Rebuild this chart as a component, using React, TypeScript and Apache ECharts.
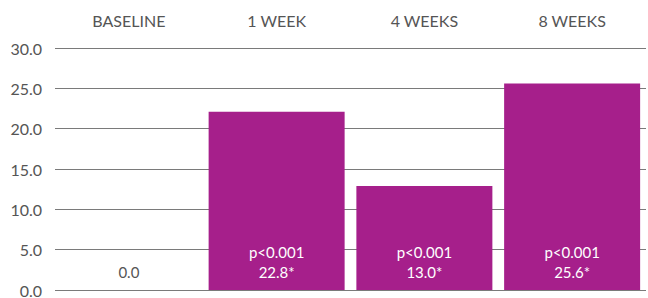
import React, { useEffect, useRef } from "react";
import * as echarts from "echarts";

const categories = ["BASELINE", "1 WEEK", "4 WEEKS", "8 WEEKS"];
const barValues = [0, 22.1, 12.9, 25.6];
const valueLabels = ["0.0", "22.8*", "13.0*", "25.6*"];
const pLabels = ["", "p<0.001", "p<0.001", "p<0.001"];
const yTicks = [0, 5, 10, 15, 20, 25, 30];

const BAR = "#A61F8B";
const FONT = "Lato, 'Open Sans', sans-serif";

export default function App() {
  const ref = useRef<HTMLDivElement>(null);
  useEffect(() => {
    if (!ref.current) return;
    const chart = echarts.init(ref.current, undefined, { renderer: "svg" });
    chart.setOption({
      animation: false,
      textStyle: { fontFamily: FONT },
      grid: { left: 55, right: 2, top: 48, bottom: 8, containLabel: false },
      xAxis: {
        type: "category",
        position: "top",
        data: categories,
        axisLine: { show: false },
        axisTick: { show: false },
        axisLabel: { color: "#555", fontSize: 16, margin: 20, fontFamily: FONT },
      },
      yAxis: {
        type: "value",
        min: yTicks[0],
        max: yTicks[yTicks.length - 1],
        interval: 5,
        axisLine: { show: false },
        axisTick: { show: false },
        axisLabel: {
          color: "#555",
          fontSize: 16,
          margin: 13,
          fontFamily: FONT,
          formatter: (v: number) => v.toFixed(1),
        },
        splitLine: { lineStyle: { color: "#7a7a7a", width: 1 } },
      },
      series: [
        {
          type: "bar",
          barWidth: 136,
          data: barValues.map((v, i) => ({
            value: v,
            itemStyle: { color: BAR },
            label: {
              show: true,
              position: "insideBottom",
              distance: 8,
              color: i === 0 ? "#555" : "#fff",
              fontSize: 15,
              lineHeight: 20,
              fontFamily: FONT,
              formatter: () =>
                pLabels[i] ? pLabels[i] + "\n" + valueLabels[i] : valueLabels[i],
            },
          })),
        },
      ],
    });
    return () => chart.dispose();
  }, []);
  return <div ref={ref} style={{ width: 648, height: 298, position: "absolute", left: 0, top: 0 }} />;
}
